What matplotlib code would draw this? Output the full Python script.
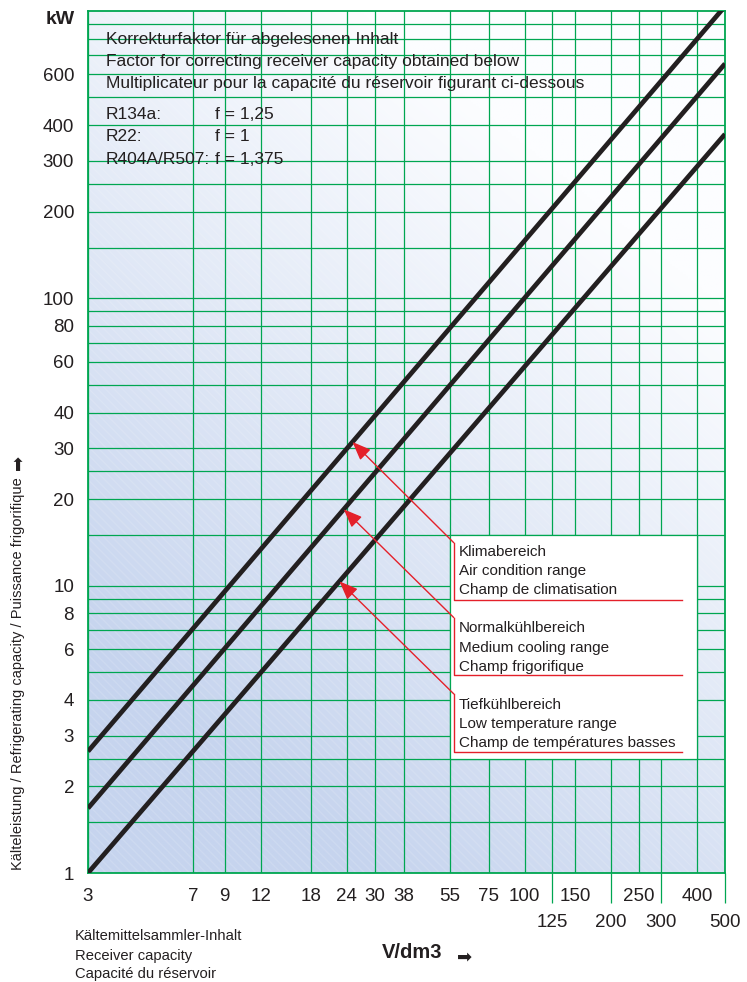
import numpy as np
import matplotlib
matplotlib.use("Agg")
import matplotlib.pyplot as plt
from matplotlib.patches import Rectangle
from matplotlib.ticker import FixedLocator, NullFormatter

plt.rcParams['font.family'] = ['Liberation Sans', 'DejaVu Sans']

# Receiver volume (dm3) axis
x_ticks_top = [3, 7, 9, 12, 18, 24, 30, 38, 55, 75, 100, 150, 250, 400]
x_ticks_low = [125, 200, 300, 500]

# Capacity (kW) axis
y_ticks = [1, 2, 3, 4, 6, 8, 10, 20, 30, 40, 60, 80, 100, 200, 300, 400, 600]
y_grid_extra = [1.5, 2.5, 5, 7, 9, 15, 25, 50, 70, 90, 150, 250, 500, 700, 800, 900]

# Straight lines in log-log: capacity at V = 3 and V = 500 dm3
volumes = [3, 500]
klima = [2.65, 1036]
normal = [1.68, 654]
tief = [1.0, 372]

range_labels = [
    ["Klimabereich", "Air condition range", "Champ de climatisation"],
    ["Normalkühlbereich", "Medium cooling range", "Champ frigorifique"],
    ["Tiefkühlbereich", "Low temperature range", "Champ de températures basses"],
]
arrow_volumes = [25.1, 23.4, 22.6]

header = [
    "Korrekturfaktor für abgelesenen Inhalt",
    "Factor for correcting receiver capacity obtained below",
    "Multiplicateur pour la capacité du réservoir figurant ci-dessous",
]
refrigerants = ["R134a:", "R22:", "R404A/R507:"]
factors = ["f = 1,25", "f = 1", "f = 1,375"]

GREEN = '#00a651'
RED = '#e4202a'
INK = '#231f20'

W, H = 747, 982
fig = plt.figure(figsize=(W / 100, H / 100), dpi=100)
ax = fig.add_axes([88 / W, (H - 873) / H, 637 / W, 862.3 / H])
ax.set_xscale('log')
ax.set_yscale('log')
ax.set_xlim(3, 500)
ax.set_ylim(1, 1000)


def px2ax(px, py):
    return (px - 88) / 637, (873 - py) / 862.3


# background: blue in the lower left fading to white towards the upper right
u, v = np.meshgrid(np.linspace(0, 1, 400), np.linspace(0, 1, 400))
d = 0.45 * u + 0.75 * v
s = np.clip(1.35 * (d - 0.2), 0, 1)[..., None]
blue = np.array([198, 212, 238]) / 255
white = np.array([252, 253, 255]) / 255
bg = blue * (1 - s) + white * s
ax.imshow(bg, extent=[0, 1, 0, 1], transform=ax.transAxes, origin='lower',
          aspect='auto', zorder=0, interpolation='bilinear')
ax.add_patch(Rectangle((0, 0), 1, 1, transform=ax.transAxes, facecolor='none',
                       edgecolor=(1, 1, 1, 0.13), hatch='\\\\\\\\', lw=0, zorder=0.2))

# ticks and grid
ax.xaxis.set_major_locator(FixedLocator(x_ticks_top))
ax.xaxis.set_minor_locator(FixedLocator(x_ticks_low))
ax.set_xticks(x_ticks_top, [str(t) for t in x_ticks_top])
ax.set_xticks(x_ticks_low, [str(t) for t in x_ticks_low], minor=True)
ax.set_yticks(y_ticks, [str(t) for t in y_ticks])
ax.set_yticks(y_grid_extra, minor=True)
ax.yaxis.set_minor_formatter(NullFormatter())

ax.tick_params(axis='both', which='both', labelsize=13.5, labelcolor=INK)
ax.tick_params(axis='y', which='both', length=0, pad=10)
ax.tick_params(axis='x', which='major', length=0, pad=10.5)
ax.tick_params(axis='x', which='minor', length=21.6, width=0.9, color=GREEN, pad=8)
ax.grid(True, which='both', color=GREEN, lw=0.9)
for sp in ax.spines.values():
    sp.set_color(GREEN)
    sp.set_linewidth(1.3)

# the three capacity lines
for vals in (klima, normal, tief):
    ax.plot(volumes, vals, color=INK, lw=3.4, solid_capstyle='butt', zorder=3)

# white legend panel covering the grid cells
ax.add_patch(Rectangle((55, 2.5), 400 - 55, 15 - 2.5, facecolor='white',
                       edgecolor=GREEN, lw=0.9, zorder=2.6))

# arrows from the panel to the lines
tail_top = [14.1, 7.74, 4.2]
under_y = [8.94, 4.87, 2.63]
x_bar, x_end = 56.6, 353
text_rows = [[551.7, 571, 590], [628.3, 647.7, 666.7], [705, 724, 743.3]]
for vals, xv, yt, yu, lines, rows in zip((klima, normal, tief), arrow_volumes,
                                         tail_top, under_y, range_labels, text_rows):
    ytip = np.exp(np.interp(np.log(xv), np.log(volumes), np.log(vals)))
    ax.annotate('', xy=(xv, ytip), xytext=(x_bar, yt),
                arrowprops=dict(arrowstyle='-|>,head_length=0.75,head_width=0.3',
                                color=RED, lw=1.0, shrinkA=0, shrinkB=0,
                                mutation_scale=15), zorder=4)
    ax.plot([x_bar, x_bar, x_end], [yt, yu, yu], color=RED, lw=1.0, zorder=4)
    for line, py in zip(lines, rows):
        ax.text(*px2ax(459, py), line, transform=ax.transAxes, fontsize=11,
                color=INK, va='center', ha='left', zorder=5)

# correction factor notes
for line, py in zip(header, [40, 62, 84]):
    ax.text(*px2ax(106, py), line, transform=ax.transAxes, fontsize=12.5,
            color=INK, va='center', ha='left', zorder=5)
for ref, f, py in zip(refrigerants, factors, [115, 137, 160]):
    ax.text(*px2ax(106, py), ref, transform=ax.transAxes, fontsize=12.5,
            color=INK, va='center', ha='left', zorder=5)
    ax.text(*px2ax(215, py), f, transform=ax.transAxes, fontsize=12.5,
            color=INK, va='center', ha='left', zorder=5)

# axis captions
fig.text(75 / W, 1 - 20 / H, "kW", fontsize=14, fontweight='bold', color=INK,
         ha='right', va='center')
fig.text(18 / W, 1 - 870 / H,
         "Kälteleistung / Refrigerating capacity / Puissance frigorifique",
         rotation=90, fontsize=10.5, color=INK, ha='center', va='bottom')
fig.text(18.5 / W, 1 - 462 / H, "\u27a1", rotation=90, fontsize=13, color=INK,
         family='DejaVu Sans', ha='center', va='center')
for line, py in zip(["Kältemittelsammler-Inhalt", "Receiver capacity",
                     "Capacité du réservoir"], [936.5, 956, 974]):
    fig.text(75 / W, 1 - py / H, line, fontsize=10.6, color=INK, ha='left', va='center')
fig.text(382 / W, 1 - 953 / H, "V/dm3", fontsize=14.5, fontweight='bold',
         color=INK, ha='left', va='center')
fig.text(457 / W, 1 - 957 / H, "\u27a1", fontsize=13, color=INK,
         family='DejaVu Sans', ha='left', va='center')

fig.savefig('out.png', dpi=100)
